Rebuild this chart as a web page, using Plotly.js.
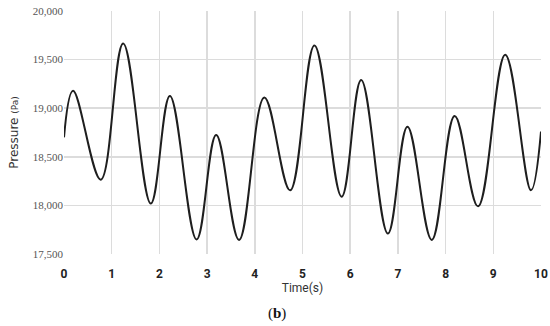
<!DOCTYPE html>
<html>
<head>
<meta charset="utf-8">
<script src="https://cdn.plot.ly/plotly-3.0.1.min.js"></script>
<style>
  html, body { margin: 0; padding: 0; background: #fff; }
  #chart { width: 550px; height: 326px; }
</style>
</head>
<body>
<div id="chart"></div>
<script>
// time (s) and pressure (Pa): start, peaks, troughs, end
var time = [0, 0.19, 0.77, 1.24, 1.82, 2.22, 2.78, 3.19, 3.67, 4.2, 4.74,
            5.25, 5.82, 6.23, 6.79, 7.2, 7.71, 8.19, 8.68, 9.25, 9.79, 10];
var pressure = [18700, 19180, 18265, 19665, 18020, 19125, 17650, 18725, 17645, 19110, 18155,
                19645, 18090, 19290, 17710, 18810, 17645, 18920, 17990, 19550, 18155, 18760];
var xTicks = [0, 1, 2, 3, 4, 5, 6, 7, 8, 9, 10];
var yTicks = [17500, 18000, 18500, 19000, 19500, 20000];

var trace = {
  x: time,
  y: pressure,
  type: 'scatter',
  mode: 'lines',
  line: { color: '#1e1e1e', width: 2, shape: 'spline', smoothing: 1.1 },
  hoverinfo: 'none'
};

var layout = {
  width: 550,
  height: 326,
  margin: { l: 64, r: 9, t: 11, b: 72 },
  paper_bgcolor: '#fff',
  plot_bgcolor: '#fff',
  showlegend: false,
  xaxis: {
    range: [0, 10],
    tickvals: xTicks,
    ticks: 'outside',
    ticklen: 9,
    tickcolor: 'rgba(0,0,0,0)',
    showgrid: true,
    gridcolor: '#dcdcdc',
    gridwidth: 1.5,
    zeroline: false,
    showline: false,
    tickfont: { family: 'Roboto', size: 12, color: '#222', weight: 'bold' },
    title: { text: 'Time(s)', font: { family: 'Roboto', size: 12, color: '#333' }, standoff: 2 }
  },
  yaxis: {
    range: [17500, 20000],
    tickvals: yTicks,
    tickformat: ',d',
    ticks: '',
    showgrid: true,
    gridcolor: '#dcdcdc',
    gridwidth: 1.5,
    zeroline: false,
    showline: false,
    tickfont: { family: 'Liberation Serif', size: 11, color: '#555' },
    title: {
      text: 'Pressure <span style="font-size:9px">(Pa)</span>',
      font: { family: 'DejaVu Sans', size: 12, color: '#333' },
      standoff: 11
    }
  },
  annotations: [{
    text: '(<b>b</b>)',
    xref: 'paper', yref: 'paper',
    x: 0.447, y: -0.243,
    xanchor: 'center', yanchor: 'middle',
    showarrow: false,
    font: { family: 'Liberation Serif', size: 15, color: '#111' }
  }]
};

Plotly.newPlot('chart', [trace], layout, { staticPlot: true, displayModeBar: false });
</script>
</body>
</html>
